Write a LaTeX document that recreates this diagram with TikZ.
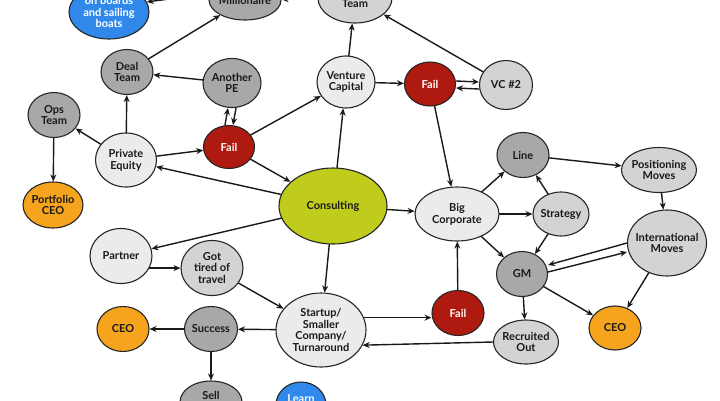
\documentclass[tikz,border=0pt]{standalone}
\usepackage{fontspec}
\setmainfont{Lato}
\usetikzlibrary{shapes.geometric,arrows.meta}
\definecolor{darkg}{HTML}{A8A8A8}
\definecolor{midg}{HTML}{D3D3D3}
\definecolor{lightg}{HTML}{EBEBEB}
\definecolor{failred}{HTML}{AE1A10}
\definecolor{ceoorange}{HTML}{F6A41E}
\definecolor{lime}{HTML}{C0CC1C}
\definecolor{skyblue}{HTML}{2F88EA}
\tikzset{
	bub/.style={ellipse, draw=black!85, line width=1.1pt, inner sep=0pt},
	txt/.style={align=center, font=\fontsize{11}{11.7}\selectfont\bfseries, text=black!90},
	wtxt/.style={txt, text=white},
	link/.style={->, line width=1.4pt, black!90},
}
\begin{document}
\begin{tikzpicture}[x=1pt, y=-1pt, >={Stealth[length=7pt,width=6pt]}, line join=round, line cap=round]
	\useasboundingbox (0,0) rectangle (720,400);
	\clip (0,0) rectangle (720,400);
	% nodes cut by the frame
	\node[bub, fill=skyblue, minimum width=80pt, minimum height=54pt, label={[wtxt]center:on boards\\and sailing\\boats}] (boats) at (109,12) {};
	\node[bub, fill=darkg, minimum width=72pt, minimum height=40pt, label={[txt]center:Millionaire}] (mill) at (245,0) {};
	\node[bub, fill=midg, minimum width=74pt, minimum height=50pt, label={[txt]center:\vphantom{Tg}\\Team}] (team) at (355,-2) {};
	\node[bub, fill=darkg, minimum width=62pt, minimum height=42pt, label={[txt]center:Sell\\\vphantom{Tg}}] (sell) at (211,402) {};
	\node[bub, fill=skyblue, minimum width=50pt, minimum height=46pt, label={[wtxt]center:Learn\\\vphantom{Tg}}] (learn) at (301,405) {};
	% private equity side
	\node[bub, fill=darkg, minimum width=52pt, minimum height=45pt, label={[txt]center:Deal\\Team}] (deal) at (127,72) {};
	\node[bub, fill=darkg, minimum width=58pt, minimum height=49pt, label={[txt]center:Another\\PE}] (anotherpe) at (232,83) {};
	\node[bub, fill=darkg, minimum width=52pt, minimum height=45pt, label={[txt]center:Ops\\Team}] (ops) at (54,115) {};
	\node[bub, fill=lightg, minimum width=61pt, minimum height=54pt, label={[txt]center:Private\\Equity}] (pe) at (126,160) {};
	\node[bub, fill=failred, minimum width=51pt, minimum height=43pt, label={[wtxt]center:Fail}] (failpe) at (229,147) {};
	\node[bub, fill=ceoorange, minimum width=60pt, minimum height=46pt, label={[txt]center:Portfolio\\CEO}] (portceo) at (53,205) {};
	% venture side
	\node[bub, fill=lightg, minimum width=58pt, minimum height=52pt, label={[txt]center:Venture\\Capital}] (vc) at (346,82) {};
	\node[bub, fill=failred, minimum width=51pt, minimum height=44pt, label={[wtxt]center:Fail}] (failvc) at (430,84) {};
	\node[bub, fill=midg, minimum width=53pt, minimum height=49pt, label={[txt]center:VC \#2}] (vctwo) at (506,85) {};
	\node[bub, fill=lime, minimum width=108pt, minimum height=76pt, label={[txt]center:Consulting}] (consult) at (333,206) {};
	% corporate side
	\node[bub, fill=lightg, minimum width=84pt, minimum height=54pt, label={[txt]center:Big\\Corporate}] (bigcorp) at (457,214) {};
	\node[bub, fill=darkg, minimum width=52pt, minimum height=45pt, label={[txt]center:Line}] (line) at (523,155) {};
	\node[bub, fill=midg, minimum width=75pt, minimum height=45pt, label={[txt]center:Positioning\\Moves}] (posmoves) at (659,170) {};
	\node[bub, fill=midg, minimum width=56pt, minimum height=44pt, label={[txt]center:Strategy}] (strategy) at (561,214) {};
	\node[bub, fill=midg, minimum width=79pt, minimum height=66pt, label={[txt]center:International\\Moves}] (intl) at (667,243) {};
	\node[bub, fill=darkg, minimum width=51pt, minimum height=45pt, label={[txt]center:GM}] (gm) at (522,274) {};
	\node[bub, fill=ceoorange, minimum width=52pt, minimum height=44pt, label={[txt]center:CEO}] (ceoright) at (615,328) {};
	\node[bub, fill=midg, minimum width=65pt, minimum height=44pt, label={[txt]center:Recruited\\Out}] (recruited) at (526,342) {};
	\node[bub, fill=failred, minimum width=52pt, minimum height=45pt, label={[wtxt]center:Fail}] (failcorp) at (458,313) {};
	% startup side
	\node[bub, fill=lightg, minimum width=90pt, minimum height=74pt, label={[txt]center:Startup/\\Smaller\\Company/\\Turnaround}] (startup) at (321,330) {};
	\node[bub, fill=lightg, minimum width=62pt, minimum height=55pt, label={[txt]center:Partner}] (partner) at (121,256) {};
	\node[bub, fill=midg, minimum width=62pt, minimum height=55pt, label={[txt]center:Got\\tired of\\travel}] (tired) at (212,268) {};
	\node[bub, fill=darkg, minimum width=53pt, minimum height=45pt, label={[txt]center:Success}] (success) at (211,329) {};
	\node[bub, fill=ceoorange, minimum width=52pt, minimum height=45pt, label={[txt]center:CEO}] (ceoleft) at (123,329) {};
	% arrows
	\foreach \a/\b in {deal/mill, anotherpe/deal, pe/deal, pe/ops, ops/portceo, pe/failpe, failpe/vc, failpe/consult, consult/pe, consult/vc, vc/team, vc/failvc, vctwo/team, failvc/bigcorp, consult/bigcorp, bigcorp/line, bigcorp/strategy, bigcorp/gm, strategy/line, strategy/gm, line/posmoves, posmoves/intl, intl/ceoright, gm/ceoright, gm/recruited, failcorp/bigcorp, consult/partner, consult/startup, tired/startup, startup/success, success/ceoleft, success/sell, team/mill}
		\draw[link] (\a) -- (\b);
	\draw[link] ([yshift=6pt]mill.west) -- (boats.15);
	\draw[link] ([xshift=-4pt]failpe.north) -- ([xshift=-4pt]anotherpe.south);
	\draw[link] ([xshift=4pt]anotherpe.south) -- ([xshift=4pt]failpe.north);
	\draw[link] ([yshift=3pt]failvc.east) -- ([yshift=3pt]vctwo.west);
	\draw[link] ([yshift=-4pt]vctwo.west) -- ([yshift=-4pt]failvc.east);
	\draw[link] (intl.west) -- ([yshift=9pt]gm.east);
	\draw[link] ([yshift=2pt]gm.east) -- ([yshift=-9pt]intl.west);
	\draw[link] (recruited.west) -- (startup.-20);
	\draw[link] (startup.16) -- (startup.16 -| failcorp.west);
	\draw[link] (partner.-23) -- (partner.-23 -| tired.west);
\end{tikzpicture}
\end{document}
